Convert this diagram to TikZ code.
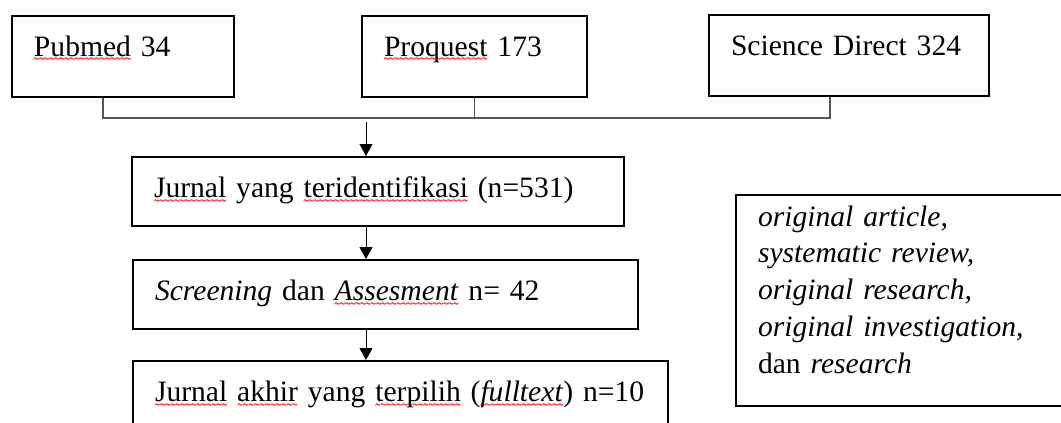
\documentclass[tikz,border=0pt]{standalone}
\usepackage{fontspec}
\setmainfont{Liberation Serif}
\newfontfamily\wavefont{DejaVu Sans}
\usepackage{tikz}
\usetikzlibrary{arrows.meta}
\definecolor{squig}{RGB}{236,52,52}
\definecolor{linkgray}{RGB}{85,85,85}
\newbox\spellbox
\newcommand{\spell}[1]{\leavevmode\setbox\spellbox=\hbox{#1}%
  \rlap{\lower9pt\hbox to\wd\spellbox{\color{squig}\wavefont\fontsize{8pt}{8pt}\selectfont
    \xleaders\hbox{\kern-0.8pt\scalebox{1}[2.2]{∼}\kern-0.8pt}\hfill}}\box\spellbox}
\tikzset{
  srcbox/.style={draw, line width=2pt, anchor=north west, align=left,
    inner xsep=22pt, inner ysep=0pt, text height=40pt, text depth=41pt},
  stepbox/.style={draw, line width=2pt, anchor=north west, align=left,
    inner xsep=22pt, inner ysep=0pt, text height=40pt, text depth=29pt},
  notebox/.style={draw, line width=2pt, anchor=north west, align=left,
    inner xsep=22pt, inner ysep=0pt, text height=31pt, text depth=180pt},
  link/.style={draw=linkgray, line width=1.3pt},
  flow/.style={line width=1pt, -{Triangle[width=13pt,length=12pt]}}
}

\begin{document}
\begin{tikzpicture}[x=1pt, y=-1pt,
  every node/.style={font=\fontsize{29.6pt}{36.8pt}\selectfont}]
\useasboundingbox (0,0) rectangle (1061,423);

\node[srcbox, text width=178pt] (pub) at (11,15) {\spell{Pubmed} 34};
\node[srcbox, text width=181pt] (pro) at (361,15) {\spell{Proquest} 173};
\node[srcbox, text width=236pt] (sci) at (708,14) {Science Direct 324};

\node[stepbox, text width=448pt] (found) at (131,156)
  {\spell{Jurnal} yang \spell{teridentifikasi} (n=531)};
\node[stepbox, text width=461pt] (screen) at (132,259)
  {\textit{Screening} dan \spell{\textit{Assesment}} n= 42};
\node[stepbox, text width=491pt, text depth=60pt] (final) at (132,360)
  {\spell{Jurnal} \spell{akhir} yang \spell{terpilih} (\spell{\textit{fulltext}}) n=10};

\node[notebox, text width=296pt] (types) at (735,194)
  {\textit{original article,}\\
   \textit{systematic review,}\\
   \textit{original research,}\\
   \textit{original investigation,}\\
   dan \textit{research}};

\coordinate (bus w) at (103,118);
\coordinate (bus e) at (830,118);
\coordinate (split) at (366,122);
\draw[link] (pub.south -| bus w) -- (bus w) -- (bus e) -- (sci.south -| bus e);
\draw[link] (pro.south) -- (pro.south |- bus w);

\draw[flow] (split) -- (split |- found.north);
\draw[flow] (found.south -| split) -- (split |- screen.north);
\draw[flow] (screen.south -| split) -- (split |- final.north);
\end{tikzpicture}
\end{document}
